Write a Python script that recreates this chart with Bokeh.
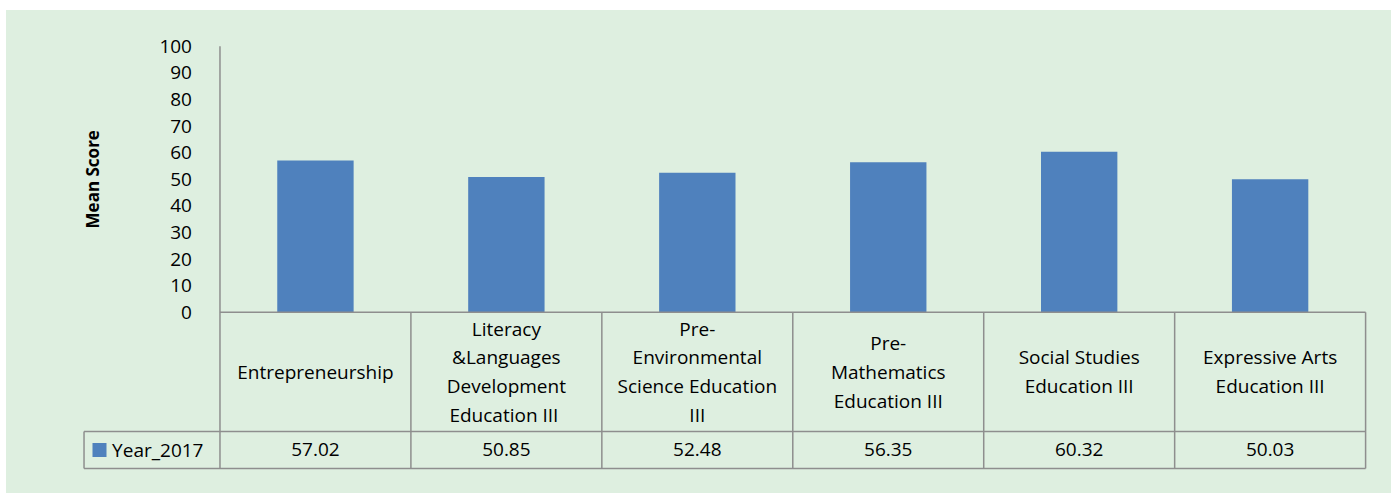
from math import pi
from bokeh.plotting import figure
from bokeh.layouts import row, column
from bokeh.models import Range1d, FixedTicker, Label, ColumnDataSource, Spacer
from bokeh.core.properties import value
from bokeh.embed import file_html
from bokeh.resources import INLINE

# ---- data ----
categories = [
    "Entrepreneurship",
    "Literacy\n&Languages\nDevelopment\nEducation  III",
    "Pre-\nEnvironmental\nScience Education\nIII",
    "Pre-\nMathematics\nEducation III",
    "Social Studies\nEducation III",
    "Expressive Arts\nEducation III",
]
series_name = "Year_2017"
scores = [57.02, 50.85, 52.48, 56.35, 60.32, 50.03]
y_ticks = [0, 10, 20, 30, 40, 50, 60, 70, 80, 90, 100]

BG = "#DEEFE0"
BAR = "#4F81BD"
GRID = "#8E8E8E"
FONT = "Open Sans"

n = len(categories)
centers = [i + 0.5 for i in range(n)]
value_labels = [f"{v:.2f}" for v in scores]

# table geometry in data units (columns are 1 unit wide, y in score units)
leg_left = -0.712
row1 = -44.74
row2 = -58.65

p = figure(
    width=1385, height=483,
    frame_width=1285, frame_height=435,
    min_border_left=76, min_border_top=25, min_border_right=24, min_border_bottom=23,
    x_range=Range1d(-0.72, 6.01), y_range=Range1d(-59.4, 104),
    x_axis_location=None, y_axis_location="left",
    output_backend="svg", toolbar_location=None,
)
p.styles = {"background-color": BG}
p.border_fill_alpha = 0
p.background_fill_alpha = 0
p.outline_line_color = None
p.xgrid.visible = False
p.ygrid.visible = False

ax = p.yaxis[0]
ax.fixed_location = 0
ax.ticker = FixedTicker(ticks=y_ticks)
ax.axis_line_color = None
ax.major_tick_line_color = None
ax.minor_tick_line_color = None
ax.major_label_standoff = 22
ax.major_label_text_font = FONT
ax.major_label_text_font_size = "19px"
ax.major_label_text_color = "black"

# bars
src = ColumnDataSource(dict(x=centers, top=scores, cat=categories, val=value_labels))
p.vbar(x="x", top="top", bottom=0, width=0.4, source=src, fill_color=BAR, line_color=None)

# axis / table lines
xs0 = [0, 0, leg_left, leg_left] + list(range(1, n + 1))
ys0 = [100, 0, row1, row2] + [0] * n
xs1 = [0, n, n, n] + list(range(1, n + 1))
ys1 = [row2, 0, row1, row2] + [row2] * n
p.segment(x0=xs0, y0=ys0, x1=xs1, y1=ys1, line_color=GRID, line_width=1.5)
p.segment(x0=[leg_left], y0=[row1], x1=[leg_left], y1=[row2], line_color=GRID, line_width=1.5)

# category names
p.text(x="x", y=row1 / 2, text="cat", source=src, text_align="center",
       text_baseline="middle", text_font=value(FONT), text_font_size="19px",
       text_color="black", text_line_height=1.11)
# values
p.text(x="x", y=(row1 + row2) / 2, text="val", source=src, text_align="center",
       text_baseline="middle", text_font=value(FONT), text_font_size="19px",
       text_color="black")

# legend cell
p.scatter(x=[-0.631], y=[(row1 + row2) / 2], marker="square", size=14,
          fill_color=BAR, line_color=None)
p.text(x=[-0.565], y=[(row1 + row2) / 2], text=[series_name], text_align="left",
       text_baseline="middle", text_font=value(FONT), text_font_size="19px",
       text_color="black")

# y axis title
p.add_layout(Label(x=-0.67, y=50, text="Mean Score", angle=pi / 2,
                   text_align="center", text_baseline="middle",
                   text_font=FONT, text_font_size="17px", text_font_style="bold",
                   text_color="black"))

layout = row(Spacer(width=6), column(Spacer(height=10), p))
open("out.html", "w").write(file_html(layout, INLINE))
